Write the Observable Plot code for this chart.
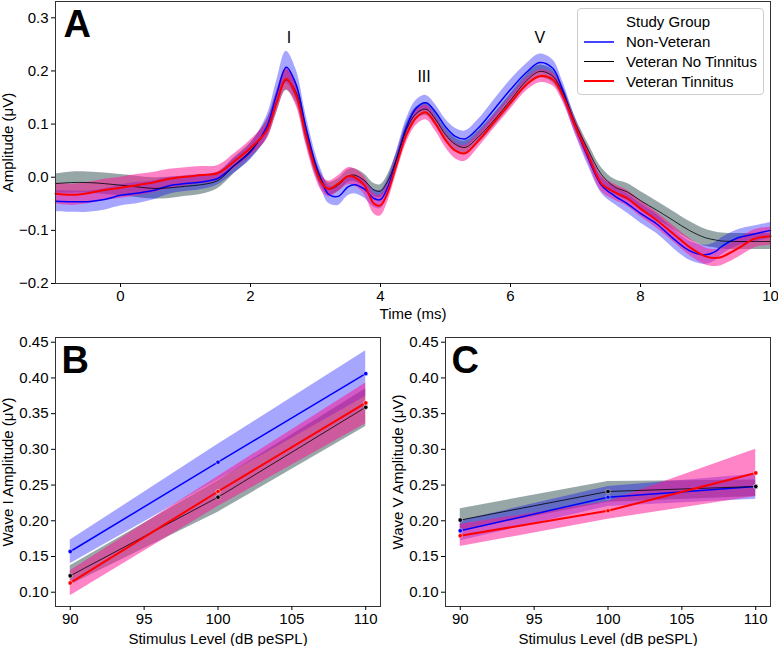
<!DOCTYPE html>
<html><head><meta charset="utf-8">
<script src="https://cdn.jsdelivr.net/npm/d3@7"></script>
<script src="https://cdn.jsdelivr.net/npm/@observablehq/plot@0.6"></script>
<style>
body{margin:0;background:#fff;}
#wrap{position:relative;width:778px;height:646px;font-family:"Liberation Sans",Arial,sans-serif;background:#fff;overflow:hidden;}
.panel{position:absolute;}
.legend{position:absolute;left:577px;top:8px;width:185px;height:85px;border:1px solid #ccc;border-radius:4px;background:rgba(255,255,255,0.85);font-size:15px;color:#000;}
.legend .row{position:absolute;left:0;height:20px;line-height:20px;white-space:nowrap;}
.legend .sw{position:absolute;left:6px;width:30px;top:10px;}
.legend .tx{position:absolute;left:48px;top:0;}
</style></head><body><div id="wrap"></div><script>
// ---------- Panel A data: grand-average ABR waveforms ----------
const groups = ["Non-Veteran", "Veteran No Tinnitus", "Veteran Tinnitus"];
const T = [-1,-0.75,-0.5,-0.25,0,0.25,0.5,0.75,1,1.25,1.5,1.75,2,2.25,2.4,2.55,2.7,2.85,3,3.1,3.2,3.35,3.5,3.6,3.75,3.9,4,4.1,4.25,4.4,4.55,4.7,4.85,5,5.15,5.3,5.5,5.75,6,6.25,6.45,6.65,6.8,7,7.2,7.4,7.6,7.8,8,8.25,8.5,8.75,9,9.15,9.25,9.5,9.75,10];
const nvMean = [-0.045,-0.046,-0.046,-0.042,-0.034,-0.030,-0.025,-0.016,-0.012,-0.009,-0.002,0.022,0.048,0.095,0.155,0.207,0.175,0.095,0.025,-0.008,-0.032,-0.036,-0.018,-0.014,-0.022,-0.040,-0.042,-0.022,0.035,0.095,0.130,0.140,0.122,0.095,0.077,0.072,0.092,0.128,0.165,0.198,0.216,0.205,0.165,0.095,0.035,-0.015,-0.035,-0.050,-0.068,-0.088,-0.115,-0.138,-0.146,-0.140,-0.130,-0.114,-0.107,-0.100];
const vnMean = [-0.012,-0.010,-0.010,-0.012,-0.015,-0.018,-0.021,-0.020,-0.017,-0.014,-0.006,0.022,0.050,0.090,0.140,0.183,0.160,0.085,0.020,-0.008,-0.022,-0.015,0.002,0.004,-0.006,-0.024,-0.026,-0.010,0.035,0.090,0.120,0.128,0.108,0.080,0.062,0.056,0.075,0.108,0.145,0.182,0.199,0.190,0.160,0.100,0.050,0.005,-0.018,-0.028,-0.044,-0.062,-0.081,-0.100,-0.114,-0.118,-0.120,-0.121,-0.121,-0.121];
const vtMean = [-0.031,-0.033,-0.030,-0.024,-0.020,-0.015,-0.010,-0.003,0.001,0.004,0.008,0.030,0.055,0.088,0.140,0.185,0.155,0.080,0.015,-0.012,-0.022,-0.012,0.002,0.000,-0.015,-0.050,-0.053,-0.032,0.025,0.080,0.112,0.122,0.100,0.070,0.050,0.045,0.068,0.104,0.140,0.175,0.190,0.184,0.155,0.095,0.040,-0.012,-0.028,-0.040,-0.059,-0.081,-0.106,-0.131,-0.149,-0.152,-0.150,-0.134,-0.116,-0.111];
const nvCi = [0.020,0.020,0.020,0.020,0.020,0.020,0.018,0.016,0.015,0.014,0.012,0.014,0.015,0.020,0.025,0.030,0.028,0.024,0.020,0.018,0.017,0.017,0.017,0.017,0.017,0.017,0.017,0.016,0.015,0.015,0.015,0.014,0.014,0.014,0.015,0.015,0.016,0.018,0.018,0.016,0.016,0.016,0.016,0.015,0.015,0.015,0.016,0.018,0.018,0.018,0.018,0.018,0.018,0.017,0.016,0.015,0.015,0.015];
const vnCi = [0.018,0.020,0.020,0.020,0.020,0.020,0.020,0.020,0.019,0.018,0.015,0.015,0.015,0.018,0.020,0.020,0.020,0.018,0.014,0.012,0.012,0.012,0.012,0.012,0.012,0.012,0.012,0.012,0.012,0.012,0.012,0.012,0.012,0.012,0.012,0.012,0.012,0.012,0.012,0.012,0.012,0.012,0.012,0.012,0.012,0.013,0.014,0.016,0.017,0.017,0.017,0.017,0.016,0.015,0.015,0.015,0.015,0.015];
const vtCi = [0.020,0.020,0.020,0.020,0.020,0.020,0.019,0.018,0.017,0.016,0.014,0.014,0.015,0.017,0.019,0.020,0.020,0.018,0.016,0.015,0.015,0.015,0.016,0.016,0.017,0.019,0.020,0.018,0.016,0.015,0.014,0.014,0.014,0.014,0.015,0.015,0.013,0.012,0.012,0.012,0.012,0.012,0.012,0.013,0.014,0.015,0.015,0.015,0.015,0.015,0.015,0.016,0.016,0.016,0.016,0.017,0.017,0.017];
const peakNames = ["I", "III", "V"];
const peakTimes = [2.59, 4.67, 6.45];
const peakLabelAmps = [0.262, 0.188, 0.262];
const timeTicks = [0, 2, 4, 6, 8, 10];
const ampTicks = [-0.2, -0.1, 0.0, 0.1, 0.2, 0.3];

// ---------- Panels B, C data: peak amplitudes by level ----------
const levels = [90, 100, 110];
const levelTicks = [90, 95, 100, 105, 110];
const waveTicks = [0.10, 0.15, 0.20, 0.25, 0.30, 0.35, 0.40, 0.45];
const w1NV = [0.157, 0.282, 0.406], w1NVlo = [0.140, 0.257, 0.374], w1NVhi = [0.173, 0.307, 0.438];
const w1VN = [0.123, 0.233, 0.359], w1VNlo = [0.110, 0.212, 0.332], w1VNhi = [0.137, 0.256, 0.385];
const w1VT = [0.113, 0.241, 0.365], w1VTlo = [0.095, 0.220, 0.336], w1VThi = [0.130, 0.262, 0.393];
const w5NV = [0.186, 0.233, 0.248], w5NVlo = [0.172, 0.220, 0.230], w5NVhi = [0.200, 0.248, 0.265];
const w5VN = [0.201, 0.241, 0.248], w5VNlo = [0.186, 0.226, 0.234], w5VNhi = [0.217, 0.255, 0.257];
const w5VT = [0.179, 0.214, 0.267], w5VTlo = [0.164, 0.202, 0.234], w5VThi = [0.195, 0.227, 0.300];

// ---------- styles ----------
const FONT = "Liberation Sans, Arial, Helvetica, sans-serif";
const sty = [
  {line: "#0000ff", lw: 1.5, fill: "#0000ff", fo: 0.35, lgw: 2.2},
  {line: "#000000", lw: 0.8, fill: "#2f4f4f", fo: 0.5, lgw: 1},
  {line: "#ff0000", lw: 2, fill: "#ff1493", fo: 0.52, lgw: 2.5}
];
const bandOrder = [1, 0, 2]; // gray under blue under pink

const wrap = document.getElementById("wrap");
function place(el, left, top) {
  el.classList.add("panel");
  el.style.left = left + "px";
  el.style.top = top + "px";
  wrap.appendChild(el);
}

// ---------- Panel A ----------
const waveRows = [[nvMean, nvCi], [vnMean, vnCi], [vtMean, vtCi]].map(([m, c]) =>
  T.map((t, i) => ({t, m: m[i], lo: m[i] - c[i], hi: m[i] + c[i]})));
const peaks = peakNames.map((name, i) => ({name, t: peakTimes[i], v: peakLabelAmps[i]}));

const plotA = Plot.plot({
  width: 778, height: 325,
  marginLeft: 55, marginRight: 8, marginTop: 1, marginBottom: 42,
  style: {fontFamily: FONT, fontSize: "15px", color: "#000", background: "transparent", overflow: "visible"},
  x: {domain: [-1, 10]},
  y: {domain: [-0.2, 0.3307]},
  marks: [
    ...bandOrder.map(k => Plot.areaY(waveRows[k], {x: "t", y1: "lo", y2: "hi", fill: sty[k].fill, fillOpacity: sty[k].fo, curve: "catmull-rom"})),
    ...waveRows.map((rows, k) => Plot.line(rows, {x: "t", y: "m", stroke: sty[k].line, strokeWidth: sty[k].lw, curve: "catmull-rom"})),
    Plot.text(peaks, {x: "t", y: "v", text: "name", fontSize: 16, fill: "#000"}),
    Plot.frame({stroke: "#333", strokeWidth: 1}),
    Plot.axisX({ticks: timeTicks, tickFormat: d3.format("d"), tickSize: 4, tickPadding: 3, fontSize: 15,
      label: "Time (ms)", labelAnchor: "center", labelOffset: 35, labelArrow: "none"}),
    Plot.axisY({ticks: ampTicks, tickFormat: d3.format(".1f"), tickSize: 4, tickPadding: 3, fontSize: 15,
      label: "Amplitude (μV)", labelAnchor: "center", labelOffset: 53, labelArrow: "none"}),
    Plot.text(["A"], {frameAnchor: "top-left", dx: 8, dy: 9, lineAnchor: "top", textAnchor: "start", fontSize: 38, fontWeight: "bold", fill: "#000"})
  ]
});
place(plotA, 0, 0);

// legend
const lg = document.createElement("div");
lg.className = "legend";
const title = document.createElement("div");
title.className = "row"; title.style.top = "3px";
title.innerHTML = '<span class="tx">Study Group</span>';
lg.appendChild(title);
groups.forEach((g, k) => {
  const r = document.createElement("div");
  r.className = "row"; r.style.top = (23 + k * 19.8) + "px";
  const sw = document.createElement("div");
  sw.className = "sw";
  sw.style.borderTop = sty[k].lgw + "px solid " + (k === 0 ? "#4444ff" : sty[k].line);
  sw.style.top = (10 - sty[k].lgw / 2) + "px";
  const tx = document.createElement("span");
  tx.className = "tx"; tx.textContent = g;
  r.appendChild(sw); r.appendChild(tx);
  lg.appendChild(r);
});
wrap.appendChild(lg);

// ---------- Panels B and C ----------
function levelPlot(sets, yLabel, letter) {
  const rows = sets.map(([m, lo, hi]) => levels.map((x, i) => ({x, m: m[i], lo: lo[i], hi: hi[i]})));
  return Plot.plot({
    width: 390, height: 321,
    marginLeft: 55, marginRight: 10, marginTop: 12, marginBottom: 40,
    style: {fontFamily: FONT, fontSize: "15px", color: "#000", background: "transparent", overflow: "visible"},
    x: {domain: [89, 111]},
    y: {domain: [0.0800, 0.4566]},
    marks: [
      ...bandOrder.map(k => Plot.areaY(rows[k], {x: "x", y1: "lo", y2: "hi", fill: sty[k].fill, fillOpacity: sty[k].fo})),
      ...rows.map((r, k) => Plot.line(r, {x: "x", y: "m", stroke: sty[k].line, strokeWidth: sty[k].lw})),
      ...rows.map((r, k) => Plot.dot(r, {x: "x", y: "m", r: 2.2, fill: sty[k].line, stroke: "#fff", strokeWidth: 0.5})),
      Plot.frame({stroke: "#333", strokeWidth: 1}),
      Plot.axisX({ticks: levelTicks, tickFormat: d3.format("d"), tickSize: 4, tickPadding: 3, fontSize: 15,
        label: "Stimulus Level (dB peSPL)", labelAnchor: "center", labelOffset: 37, labelArrow: "none"}),
      Plot.axisY({ticks: waveTicks, tickFormat: d3.format(".2f"), tickSize: 4, tickPadding: 3, fontSize: 15,
        label: yLabel, labelAnchor: "center", labelOffset: 53, labelArrow: "none"}),
      Plot.text([letter], {frameAnchor: "top-left", dx: 6, dy: 9, lineAnchor: "top", textAnchor: "start", fontSize: 38, fontWeight: "bold", fill: "#000"})
    ]
  });
}
const plotB = levelPlot([[w1NV, w1NVlo, w1NVhi], [w1VN, w1VNlo, w1VNhi], [w1VT, w1VTlo, w1VThi]], "Wave I Amplitude (μV)", "B");
place(plotB, 0, 325);
const plotC = levelPlot([[w5NV, w5NVlo, w5NVhi], [w5VN, w5VNlo, w5VNhi], [w5VT, w5VTlo, w5VThi]], "Wave V Amplitude (μV)", "C");
place(plotC, 390, 325);
</script></body></html>
